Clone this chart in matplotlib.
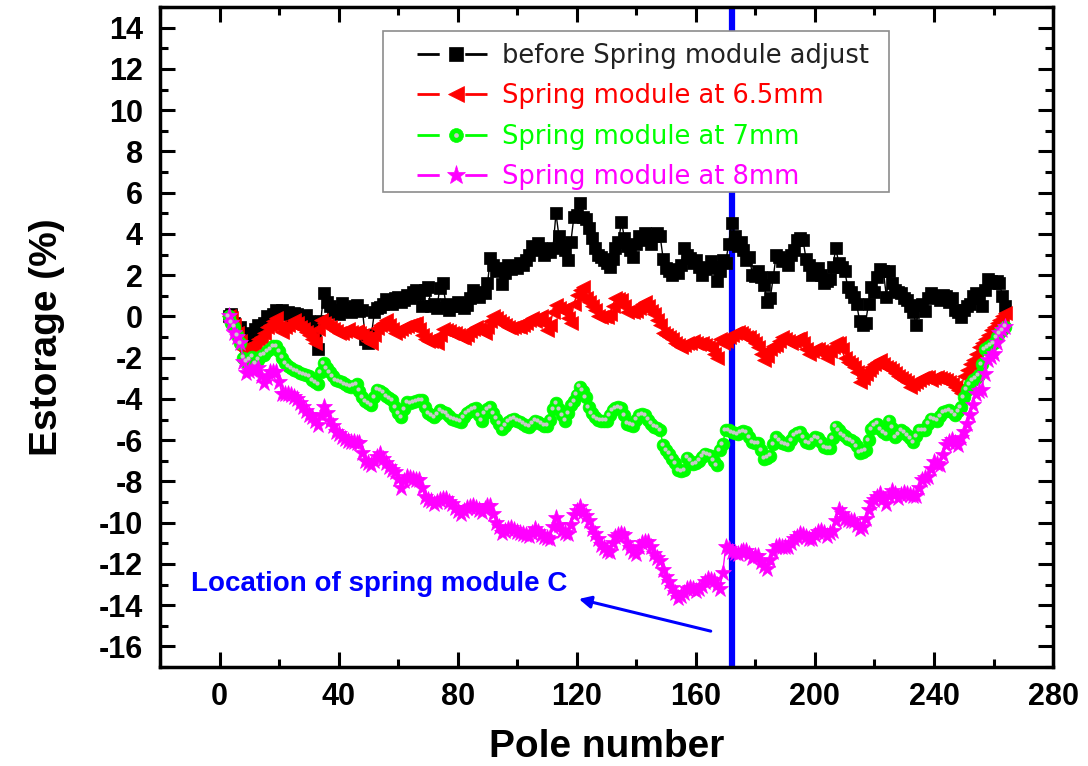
import matplotlib

matplotlib.use("Agg")
import matplotlib.pyplot as plt
import matplotlib.transforms as mtransforms
import numpy as np
from matplotlib.lines import Line2D
from matplotlib.patches import Rectangle
from matplotlib.ticker import MultipleLocator

# pole index shared by all four measurement runs
poles = np.arange(3, 265)

before_adjust = [
    0.0, 0.1, -0.3, -0.6, -0.5, -0.8, -1.5, -1.3, -0.9, -0.6,
    -0.4, -0.7, -0.3, 0.0, -0.2, 0.1, 0.3, 0.2, 0.3, 0.1,
    0.2, 0.0, 0.15, 0.1, -0.1, 0.0, 0.05, -0.2, -0.3, -0.7,
    -1.6, -0.2, 1.15, 0.7, 0.5, 0.2, 0.3, 0.1, 0.65, 0.3,
    0.4, 0.2, 0.5, 0.55, 0.25, 0.3, -1.1, -1.3, -0.9, 0.2,
    0.4, 0.45, 0.6, 0.85, 0.7, 0.6, 0.9, 0.95, 0.7, 0.8,
    1.05, 0.9, 1.2, 1.3, 1.1, 0.5, 1.3, 1.45, 0.5, 0.6,
    0.4, 1.4, 1.6, 0.6, 0.3, 0.5, 0.55, 0.7, 0.5, 0.4,
    0.55, 0.9, 1.3, 1.0, 0.95, 1.2, 1.15, 1.6, 2.85, 2.5,
    2.2, 2.35, 1.55, 2.1, 2.5, 2.3, 2.45, 2.35, 2.6, 2.5,
    2.75, 3.0, 3.4, 3.2, 3.55, 3.3, 3.0, 3.2, 3.1, 3.3,
    5.0, 3.9, 3.4, 3.2, 2.75, 3.6, 4.8, 4.9, 5.5, 4.8,
    4.7, 4.3, 3.8, 3.3, 3.0, 2.9, 2.75, 2.6, 2.4, 2.8,
    3.3, 3.6, 4.6, 3.8, 3.4, 3.2, 2.9, 3.5, 3.9, 3.7,
    4.05, 3.8, 3.5, 3.9, 4.05, 3.9, 2.8, 2.35, 2.2, 2.0,
    2.3, 2.1, 2.5, 3.3, 3.0, 2.85, 2.6, 2.75, 2.4, 2.0,
    2.3, 2.35, 2.7, 2.4, 1.7, 2.2, 2.75, 2.6, 3.5, 4.55,
    3.9, 3.4, 3.6, 3.2, 2.75, 2.9, 2.0, 1.95, 2.2, 1.9,
    1.5, 0.7, 0.9, 1.9, 3.0, 2.9, 2.7, 2.75, 2.5, 3.0,
    3.2, 3.7, 3.8, 3.7, 2.8, 2.5, 2.0, 2.3, 2.35, 2.0,
    1.6, 1.7, 1.8, 2.4, 3.3, 2.6, 2.4, 2.2, 1.45, 1.2,
    0.95, 0.6, -0.2, -0.4, -0.3, 0.6, 1.45, 1.2, 1.9, 2.3,
    2.2, 0.95, 2.2, 1.6, 1.3, 1.2, 1.15, 0.9, 0.8, 0.5,
    0.2, -0.4, 0.55, 0.6, 0.25, 0.9, 1.15, 1.0, 0.95, 0.8,
    1.05, 1.0, 0.7, 0.9, 0.3, 0.2, -0.05, 0.3, 0.5, 0.6,
    1.0, 1.15, 0.9, 0.5, 1.3, 1.8, 1.7, 1.6, 1.7, 1.6,
    1.0, 0.5,
]

spring_65mm = [
    0.0, -0.1, -0.4, -0.8, -1.2, -1.6, -1.7, -1.5, -1.4, -1.3,
    -1.1, -1.0, -0.8, -0.5, -0.4, -0.2, -0.1, -0.5, -0.75, -0.5,
    -0.4, -0.3, -0.15, -0.3, -0.5, -0.6, -0.75, -0.9, -1.1, -1.3,
    -0.6, -0.15, -0.3, -0.4, -0.5, -0.6, -0.7, -0.8, -0.8, -0.7,
    -0.6, -0.75, -0.8, -0.7, -0.8, -0.9, -1.0, -1.2, -1.3, -0.9,
    -0.55, -0.4, -0.3, -0.15, -0.4, -0.6, -0.8, -0.7, -0.6, -0.5,
    -0.45, -0.4, -0.35, -0.3, -0.6, -0.9, -1.1, -1.2, -1.2, -1.1,
    -1.3, -0.9, -0.6, -0.65, -0.7, -0.8, -0.8, -0.9, -1.0, -1.05,
    -0.9, -0.7, -0.6, -0.5, -0.6, -0.7, -0.8, -0.5, -0.2, 0.0,
    -0.1, -0.2, -0.3, -0.4, -0.5, -0.55, -0.5, -0.45, -0.5, -0.4,
    -0.3, -0.15, -0.1, -0.2, -0.1, 0.0, -0.3, -0.65, -0.4, 0.2,
    0.55, 0.4, 0.3, 0.25, -0.1, -0.3, 0.6, 1.05, 1.3, 1.45,
    0.9, 0.7, 0.5, 0.3, 0.0, -0.05, 0.0, -0.05, 0.1, 0.5,
    0.9, 0.85, 0.8, 0.5, 0.2, 0.25, 0.2, 0.25, 0.4, 0.6,
    0.7, 0.5, 0.25, 0.1, -0.15, -0.4, -0.8, -0.9, -1.0, -1.1,
    -1.3, -1.4, -1.5, -1.4, -1.3, -1.3, -1.2, -1.3, -1.35, -1.3,
    -1.4, -1.5, -1.55, -1.8, -2.0, -1.1, -1.3, -1.2, -1.0, -0.9,
    -0.8, -0.75, -0.8, -0.9, -1.0, -1.0, -1.15, -1.3, -1.5, -1.8,
    -2.1, -1.9, -1.6, -1.45, -1.4, -1.2, -1.0, -1.1, -1.2, -1.3,
    -1.2, -1.1, -1.05, -1.3, -1.6, -1.8, -1.7, -1.6, -1.6, -1.7,
    -1.8, -2.0, -1.7, -1.5, -1.3, -1.3, -1.6, -2.0, -2.2, -2.3,
    -2.45, -2.7, -3.2, -3.0, -2.8, -2.6, -2.45, -2.3, -2.2, -2.1,
    -2.3, -2.45, -2.5, -2.6, -2.75, -2.9, -3.0, -3.1, -3.2, -3.4,
    -3.3, -3.2, -3.1, -3.0, -2.95, -2.95, -3.1, -3.0, -2.95, -3.0,
    -3.05, -3.1, -3.2, -3.3, -3.4, -3.55, -3.7, -2.9, -2.6, -2.3,
    -2.1, -1.8, -1.5, -1.3, -1.1, -0.9, -0.65, -0.5, -0.3, -0.15,
    0.0, 0.15,
]

spring_7mm = [
    0.0, -0.3, -0.5, -0.9, -1.3, -2.0, -2.2, -2.1, -1.95, -2.25,
    -2.1, -1.9, -1.85, -1.7, -1.6, -1.45, -1.45, -1.7, -2.0, -2.25,
    -2.4, -2.5, -2.6, -2.65, -2.75, -2.8, -2.85, -2.9, -3.1, -3.2,
    -3.3, -2.7, -2.25, -2.5, -2.7, -2.9, -3.1, -3.15, -3.2, -3.3,
    -3.35, -3.4, -3.35, -3.3, -3.6, -3.9, -4.1, -4.2, -4.3, -3.9,
    -3.55, -3.6, -3.7, -3.85, -3.95, -4.05, -4.4, -4.7, -4.9, -4.5,
    -4.15, -4.2, -4.15, -4.1, -4.05, -4.05, -4.4, -4.7, -4.8, -4.9,
    -4.75, -4.55, -4.65, -4.7, -4.85, -4.95, -5.0, -5.05, -5.1, -4.9,
    -4.7, -4.6, -4.5, -4.45, -4.8, -5.05, -4.7, -4.5, -4.4, -4.7,
    -4.95, -5.2, -5.45, -5.3, -5.1, -5.0, -4.95, -5.05, -5.1, -5.2,
    -5.3, -5.35, -5.2, -5.05, -5.1, -5.2, -5.3, -5.3, -5.0, -4.5,
    -4.2, -4.5, -4.8, -5.05, -4.7, -4.3, -4.1, -3.8, -3.4, -3.6,
    -3.9, -4.4, -4.7, -4.9, -5.0, -5.05, -5.05, -5.05, -4.8, -4.55,
    -4.45, -4.4, -4.45, -4.8, -5.2, -5.25, -5.3, -5.0, -4.8, -4.75,
    -4.8, -5.0, -5.2, -5.35, -5.4, -5.5, -6.25, -6.5, -6.65, -6.9,
    -7.1, -7.45, -7.5, -7.45, -6.85, -7.0, -7.15, -7.1, -7.0, -6.8,
    -6.65, -6.7, -6.75, -7.0, -7.2, -6.5, -6.2, -5.5, -5.5, -5.6,
    -5.65, -5.7, -5.6, -5.55, -5.6, -5.85, -6.1, -6.15, -6.15, -6.5,
    -6.9, -6.85, -6.75, -6.2, -5.85, -6.0, -6.15, -6.2, -6.25, -6.0,
    -5.75, -5.65, -5.6, -5.85, -6.1, -6.15, -6.0, -5.85, -5.9, -6.1,
    -6.35, -6.4, -6.4, -5.9, -5.35, -5.5, -5.7, -5.8, -5.95, -6.0,
    -6.1, -6.3, -6.6, -6.55, -6.5, -6.0, -5.45, -5.3, -5.2, -5.45,
    -5.6, -5.7, -5.05, -5.4, -5.85, -5.7, -5.5, -5.6, -5.75, -5.9,
    -6.1, -5.8, -5.5, -5.5, -5.5, -5.2, -4.95, -5.0, -5.05, -4.85,
    -4.65, -4.6, -4.55, -4.65, -4.8, -4.6, -4.4, -3.9, -3.55, -3.3,
    -3.1, -3.0, -2.85, -2.3, -1.6, -1.5, -1.4, -1.3, -1.0, -0.8,
    -0.65, -0.5,
]

spring_8mm = [
    0.0, -0.3, -0.8, -1.0, -1.3, -2.2, -2.75, -2.65, -2.6, -2.55,
    -2.5, -2.9, -3.25, -3.0, -2.7, -2.7, -2.7, -3.2, -3.75, -3.75,
    -3.75, -3.8, -3.9, -4.0, -4.2, -4.4, -4.6, -4.8, -4.9, -5.05,
    -5.25, -4.8, -4.4, -4.7, -5.05, -5.3, -5.6, -5.7, -5.85, -5.95,
    -6.05, -6.1, -6.1, -6.15, -6.15, -6.6, -7.0, -7.1, -7.2, -7.0,
    -6.8, -6.65, -6.9, -7.1, -7.3, -7.45, -7.55, -7.9, -8.3, -8.0,
    -7.8, -7.85, -7.9, -7.95, -7.95, -8.3, -8.75, -8.9, -8.95, -9.1,
    -9.0, -8.9, -8.85, -8.85, -9.0, -9.1, -9.3, -9.45, -9.6, -9.45,
    -9.3, -9.25, -9.2, -9.3, -9.4, -9.5, -9.35, -9.2, -9.2, -9.6,
    -10.0, -10.2, -10.5, -10.4, -10.3, -10.25, -10.35, -10.45, -10.5, -10.55,
    -10.6, -10.65, -10.5, -10.3, -10.45, -10.6, -10.7, -10.75, -10.8, -10.2,
    -9.75, -10.1, -10.4, -10.5, -10.55, -10.1, -9.65, -9.45, -9.25, -9.5,
    -9.7, -9.9, -10.3, -10.55, -10.8, -11.1, -11.25, -11.35, -11.4, -11.0,
    -10.7, -10.6, -10.55, -10.6, -11.0, -11.25, -11.4, -11.5, -11.2, -11.0,
    -10.95, -10.95, -11.2, -11.5, -11.7, -11.85, -12.3, -12.65, -12.9, -13.15,
    -13.4, -13.65, -13.55, -13.4, -13.2, -13.15, -13.2, -13.3, -13.2, -13.05,
    -12.9, -12.75, -12.8, -12.85, -13.0, -13.2, -12.45, -11.2, -11.3, -11.4,
    -11.45, -11.5, -11.4, -11.35, -11.35, -11.5, -11.7, -11.6, -11.6, -11.9,
    -12.1, -12.25, -11.8, -11.4, -11.2, -11.15, -11.2, -11.2, -11.2, -11.0,
    -10.8, -10.7, -10.55, -10.6, -10.7, -10.8, -10.8, -10.6, -10.45, -10.4,
    -10.5, -10.65, -10.5, -10.4, -9.9, -9.4, -9.6, -9.8, -9.85, -9.9,
    -9.9, -10.1, -10.3, -10.2, -9.8, -9.4, -9.05, -8.9, -8.75, -8.6,
    -8.85, -9.1, -8.7, -8.45, -8.6, -8.8, -8.65, -8.55, -8.6, -8.65,
    -8.7, -8.7, -8.3, -7.95, -7.85, -7.8, -7.4, -7.05, -7.15, -7.2,
    -6.7, -6.25, -6.1, -6.0, -6.15, -6.25, -5.9, -5.6, -5.2, -4.8,
    -4.3, -3.75, -3.6, -3.55, -2.8, -2.1, -1.95, -1.8, -1.3, -0.8,
    -0.65, -0.5,
]

series_labels = [
    "before Spring module adjust",
    "Spring module at 6.5mm",
    "Spring module at 7mm",
    "Spring module at 8mm",
]
module_c_pole = 172
module_c_text = "Location of spring module C"

BLACK = "#000000"
RED = "#ff0000"
GREEN = "#00ff00"
MAGENTA = "#ff00ff"
BLUE = "#0000ff"
SHINE = "#c8c8c8"
TICK_FONT = "Liberation Sans"

plt.rcParams["axes.unicode_minus"] = False

fig = plt.figure(figsize=(10.88, 7.66), dpi=100)
ax = fig.add_axes([0.1471, 0.1292, 0.8208, 0.8616])

styles = [
    dict(color=BLACK, marker="s", markersize=8.2),
    dict(color=RED, marker="<", markersize=10),
    dict(color=GREEN, marker="o", markersize=9.2),
    dict(color=MAGENTA, marker="*", markersize=12.5),
]
legend_marker_sizes = [9.5, 11.5, 10.0, 14.0]
all_series = [before_adjust, spring_65mm, spring_7mm, spring_8mm]

for values, style in zip(all_series, styles):
    ax.plot(poles, values, linewidth=1.0, markeredgewidth=0.5, zorder=3, **style)

# small grey highlight on the green balls
shine = mtransforms.offset_copy(ax.transData, fig=fig, x=-1.3, y=1.3, units="dots")
ax.plot(poles, spring_7mm, linestyle="none", marker="o", markersize=3.0,
        color=SHINE, markeredgewidth=0, transform=shine, zorder=3.2)

ax.axvline(module_c_pole, color=BLUE, linewidth=4.5, zorder=2)

ax.text(-9.7, -12.97, module_c_text, color=BLUE, fontsize=20, fontweight="bold",
        family=TICK_FONT, va="center", ha="left")
ax.annotate("", xy=(120.7, -13.7), xytext=(165, -15.26),
            arrowprops=dict(arrowstyle="-|>", color=BLUE, linewidth=2.2,
                            mutation_scale=18, shrinkA=0, shrinkB=0))

ax.set_xlim(-20, 280)
ax.set_ylim(-17, 15)
ax.xaxis.set_major_locator(MultipleLocator(40))
ax.xaxis.set_minor_locator(MultipleLocator(20))
ax.yaxis.set_major_locator(MultipleLocator(2))
ax.yaxis.set_minor_locator(MultipleLocator(1))

for spine in ax.spines.values():
    spine.set_linewidth(2.5)
ax.tick_params(which="both", direction="in", top=True, right=True, width=2.2)
ax.tick_params(which="major", length=11)
ax.tick_params(which="minor", length=6)
ax.tick_params(axis="x", which="major", pad=11)
ax.tick_params(axis="y", which="major", pad=12.5)
for label in ax.get_xticklabels() + ax.get_yticklabels():
    label.set_fontfamily(TICK_FONT)
    label.set_fontweight("bold")
    label.set_fontsize(22)

ax.set_xlabel("Pole number", fontsize=28, fontweight="bold", family=TICK_FONT, labelpad=12)
ax.set_ylabel("Estorage (%)", fontsize=28, fontweight="bold", family=TICK_FONT, labelpad=24)

# legend box drawn as a patch so it covers the marker line
ax.add_patch(Rectangle((0.2497, 0.7197), 0.5666, 0.2439, transform=ax.transAxes,
                       facecolor="white", edgecolor="#8c8c8c", linewidth=1.2, zorder=9))

# legend keys: line broken around the marker
handles = []
for style, size in zip(styles, legend_marker_sizes):
    stroke = Line2D([], [], color=style["color"], linewidth=2.0, dashes=(8.0, 9.2))
    mark = Line2D([], [], linestyle="none", color=style["color"], marker=style["marker"],
                  markersize=size, markeredgewidth=0.5)
    handles.append((stroke, mark))
handles[2] = handles[2] + (Line2D([], [], linestyle="none", marker="o", markersize=3.4,
                                  color=SHINE, markeredgewidth=0),)
legend = ax.legend(handles, series_labels, loc="upper left", bbox_to_anchor=(0.2878, 0.9454),
                   frameon=False, prop={"family": "DejaVu Sans", "size": 18.5},
                   handlelength=3.0, handletextpad=0.32, labelspacing=0.56,
                   borderpad=0, borderaxespad=0)
legend.set_zorder(10)
for text, style in zip(legend.get_texts(), styles):
    text.set_color("#222222" if style["color"] == BLACK else style["color"])

fig.savefig("out.png", dpi=100)
